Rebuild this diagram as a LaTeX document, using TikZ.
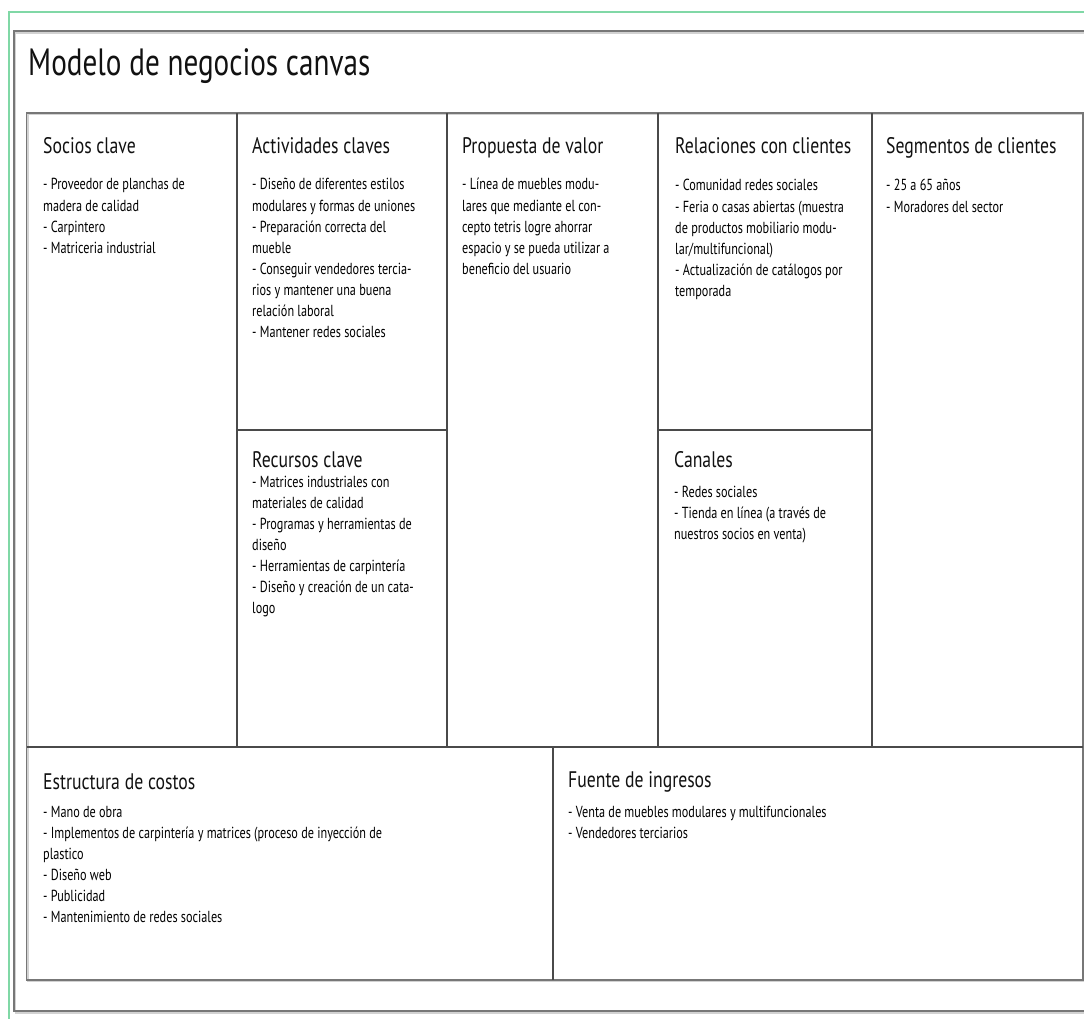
\documentclass[tikz,border=0pt]{standalone}
\usepackage{fontspec}
\newfontfamily\probefont{PT Sans}
\def\fitfont#1#2#3#4{%
  \setbox0\hbox{\probefont\fontsize{#2pt}{#2pt}\selectfont #4}%
  \pgfmathsetmacro\fitratio{#3/\the\wd0}%
  \edef\fitdo{\noexpand\newfontfamily\noexpand#1[FakeStretch=\fitratio]{PT Sans}}%
  \fitdo}
\fitfont\titlef{38}{250}{Modelo de negocios}
\fitfont\headf{22.5}{176}{Relaciones con clientes}
\fitfont\bodyf{16}{163}{modulares y formas de uniones}
\newcommand\lns[1]{\begin{tabular}[t]{@{}l@{}}#1\end{tabular}}
\definecolor{greenline}{HTML}{80D8A6}
\definecolor{framegray}{HTML}{777777}
\definecolor{linegray}{HTML}{4A4A4A}
\definecolor{txt}{HTML}{111111}
\tikzset{
  heading/.style={anchor=base west, inner sep=0pt, text=txt, font=\headf\fontsize{22.5pt}{22.5pt}\selectfont},
  bodytxt/.style={anchor=base west, inner sep=0pt, text=black, font=\bodyf\fontsize{16pt}{21.1pt}\selectfont},
  titletxt/.style={anchor=base west, inner sep=0pt, text=txt, font=\titlef\fontsize{38pt}{38pt}\selectfont},
  outerframe/.style={draw=framegray, line width=1.8pt},
  shadowline/.style={draw=gray!35, line width=1.2pt},
  divider/.style={draw=linegray, line width=1.2pt},
  greenframe/.style={draw=greenline, line width=2pt},
}
\begin{document}
\begin{tikzpicture}[x=1pt,y=-1pt]
\useasboundingbox (0,0) rectangle (1084,1019);
\clip (0,0) rectangle (1084,1019);
\fill[white] (0,0) rectangle (1084,1019);
% green frame
\draw[greenframe] (9,1040) -- (9,12) -- (1100,12);
% outer gray frame with shadow
\draw[shadowline] (15.5,33) rectangle (1101,1013);
\draw[outerframe] (14,31) rectangle (1100,1011);
% table
\draw[shadowline] (28,114.5) rectangle (1085,981.5);
\draw[outerframe] (26.5,113) rectangle (1083,980);
\foreach \xx in {237,447,658,872}{\draw[divider] (\xx,113) -- (\xx,747);}
\draw[divider] (26.5,747) -- (1083,747);
\draw[divider] (237,430) -- (447,430);
\draw[divider] (658,430) -- (872,430);
\draw[divider] (553,747) -- (553,980);

% title
\node[titletxt] (title) at (28,76) {Modelo de negocios canvas};

% Socios clave
\node[heading] (hSocios) at (43,154) {Socios clave};
\node[bodytxt] (bSocios) at (43,190) {\lns{- Proveedor de planchas de\\madera de calidad\\- Carpintero\\- Matriceria industrial}};

% Actividades claves
\node[heading] (hAct) at (252,154) {Actividades claves};
\node[bodytxt] (bAct) at (252,190) {\lns{- Diseño de diferentes estilos\\modulares y formas de uniones\\- Preparación correcta del\\mueble\\- Conseguir vendedores tercia-\\rios y mantener una buena\\relación laboral\\- Mantener redes sociales}};

% Propuesta de valor
\node[heading] (hProp) at (462,154) {Propuesta de valor};
\node[bodytxt] (bProp) at (462,190) {\lns{- Línea de muebles modu-\\lares que mediante el con-\\cepto tetris logre ahorrar\\espacio y se pueda utilizar a\\beneficio del usuario}};

% Relaciones con clientes
\node[heading] (hRel) at (675,154) {Relaciones con clientes};
\node[bodytxt] (bRel) at (675,191) {\lns{- Comunidad redes sociales\\- Feria o casas abiertas (muestra\\de productos mobiliario modu-\\lar/multifuncional)\\- Actualización de catálogos por\\temporada}};

% Segmentos de clientes
\node[heading] (hSeg) at (886,154) {Segmentos de clientes};
\node[bodytxt] (bSeg) at (886,191) {\lns{- 25 a 65 años\\- Moradores del sector}};

% Recursos clave
\node[heading] (hRec) at (252,467) {Recursos clave};
\node[bodytxt] (bRec) at (252,487) {\lns{- Matrices industriales con\\materiales de calidad\\- Programas y herramientas de\\diseño\\- Herramientas de carpintería\\- Diseño y creación de un cata-\\logo}};

% Canales
\node[heading] (hCan) at (674,467) {Canales};
\node[bodytxt] (bCan) at (674,497) {\lns{- Redes sociales\\- Tienda en línea (a través de\\nuestros socios en venta)}};

% Estructura de costos
\node[heading] (hEst) at (43,789) {Estructura de costos};
\node[bodytxt] (bEst) at (43,817) {\lns{- Mano de obra\\- Implementos de carpintería y matrices (proceso de inyección de\\plastico\\- Diseño web\\- Publicidad\\- Mantenimiento de redes sociales}};

% Fuente de ingresos
\node[heading] (hFue) at (568,787) {Fuente de ingresos};
\node[bodytxt] (bFue) at (568,817) {\lns{- Venta de muebles modulares y multifuncionales\\- Vendedores terciarios}};
\end{tikzpicture}
\end{document}
